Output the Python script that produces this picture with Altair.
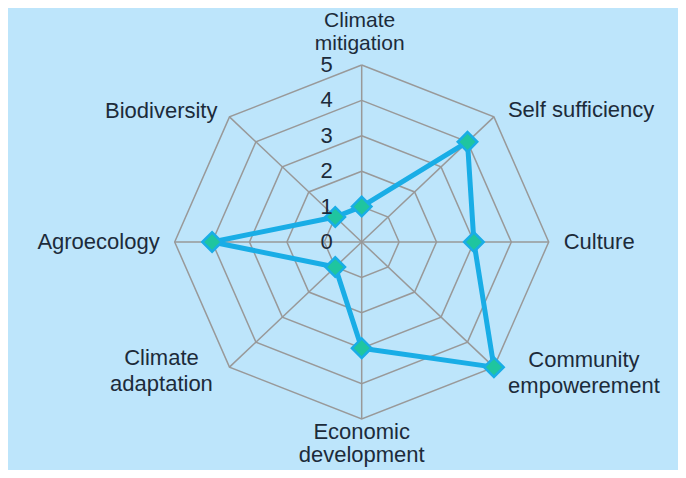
import altair as alt
import pandas as pd

# ---- data ----
categories = [
    "Climate\nmitigation",
    "Self sufficiency",
    "Culture",
    "Community\nempowerement",
    "Economic\ndevelopment",
    "Climate\nadaptation",
    "Agroecology",
    "Biodiversity",
]
values = [1, 4, 3, 5, 3, 1, 4, 1]
ring_levels = [0, 1, 2, 3, 4, 5]
ring_tick_labels = ["0", "1", "2", "3", "4", "5"]

n = len(categories)
rmax = max(ring_levels)

# ---- tables built from the arrays ----
series = pd.DataFrame({"category": categories, "r": values, "idx": list(range(n))})
closed = pd.concat([series, series.iloc[[0]]], ignore_index=True)
closed["ord"] = list(range(n + 1))

grid_rows = []
for lvl in ring_levels[1:]:
    for k in range(n + 1):
        grid_rows.append({"ring": lvl, "r": lvl, "idx": k % n, "ord": k})
grid = pd.DataFrame(grid_rows)

spokes = pd.DataFrame({"idx": list(range(n)), "r": [rmax] * n})
ticks = pd.DataFrame({"r": ring_levels, "label": ring_tick_labels})
label_df = pd.DataFrame({"category": categories, "idx": list(range(n)), "r": [rmax] * n})

# ---- styling ----
BG = "#bde5fb"
GRID = "#999999"
LINE = "#19ade6"
FILL = "#1fc59f"
TEXT = "#1c2b3a"
FONT = "Liberation Sans"
FS = 22

ang = f"datum.idx * 2 * PI / {n}"
xs = alt.Scale(domain=[-9.457, 8.457], nice=False, zero=False)
ys = alt.Scale(domain=[-6.441, 6.610], nice=False, zero=False)


def polar(ch):
    return ch.transform_calculate(
        x=f"datum.r * sin({ang})", y=f"datum.r * cos({ang})"
    )


X = alt.X("x:Q", scale=xs, axis=None)
Y = alt.Y("y:Q", scale=ys, axis=None)

rings = polar(alt.Chart(grid)).mark_line(color=GRID, strokeWidth=1.5).encode(
    x=X, y=Y, detail="ring:N", order="ord:Q"
)

spoke = (
    polar(alt.Chart(spokes))
    .transform_calculate(x0="0", y0="0")
    .mark_rule(color=GRID, strokeWidth=1.5)
    .encode(x=alt.X("x0:Q", scale=xs, axis=None), y=alt.Y("y0:Q", scale=ys, axis=None), x2="x:Q", y2="y:Q")
)

line = polar(alt.Chart(closed)).mark_line(color=LINE, strokeWidth=5, strokeJoin="round").encode(
    x=X, y=Y, order="ord:Q"
)

points = polar(alt.Chart(series)).mark_point(
    shape="diamond", filled=True, fill=FILL, stroke=LINE, strokeWidth=2.5, size=380, opacity=1
).encode(x=X, y=Y)

tick_text = (
    alt.Chart(ticks)
    .transform_calculate(x="0", y="datum.r")
    .mark_text(align="right", baseline="middle", dx=-29, font=FONT, fontSize=FS, color=TEXT)
    .encode(x=X, y=Y, text="label:N")
)

label_style = {
    0: dict(align="center", dx=-2, dy=-44, lineHeight=23, fontSize=21),
    1: dict(align="left", dx=14, dy=-7, lineHeight=26, fontSize=FS),
    2: dict(align="left", dx=15, dy=0, lineHeight=26, fontSize=FS),
    3: dict(align="center", dx=90, dy=-7, lineHeight=26, fontSize=FS),
    4: dict(align="center", dx=0, dy=13, lineHeight=23, fontSize=FS),
    5: dict(align="center", dx=-68, dy=-9, lineHeight=26, fontSize=FS),
    6: dict(align="right", dx=-15, dy=0, lineHeight=26, fontSize=FS),
    7: dict(align="right", dx=-12, dy=-6, lineHeight=26, fontSize=FS),
}

label_layers = []
for i in range(n):
    st = label_style[i]
    label_layers.append(
        polar(alt.Chart(label_df))
        .transform_filter(f"datum.idx == {i}")
        .mark_text(
            baseline="middle", font=FONT, color=TEXT,
            lineBreak="\n", **st
        )
        .encode(x=X, y=Y, text="category:N")
    )

chart = (
    alt.layer(rings, spoke, line, points, tick_text, *label_layers)
    .properties(width=670, height=462, background=BG, padding=0,
                autosize=alt.AutoSizeParams(type="none"))
    .configure_view(stroke=None)
)

chart.save("out.html", embed_options={"renderer": "svg", "actions": False})
